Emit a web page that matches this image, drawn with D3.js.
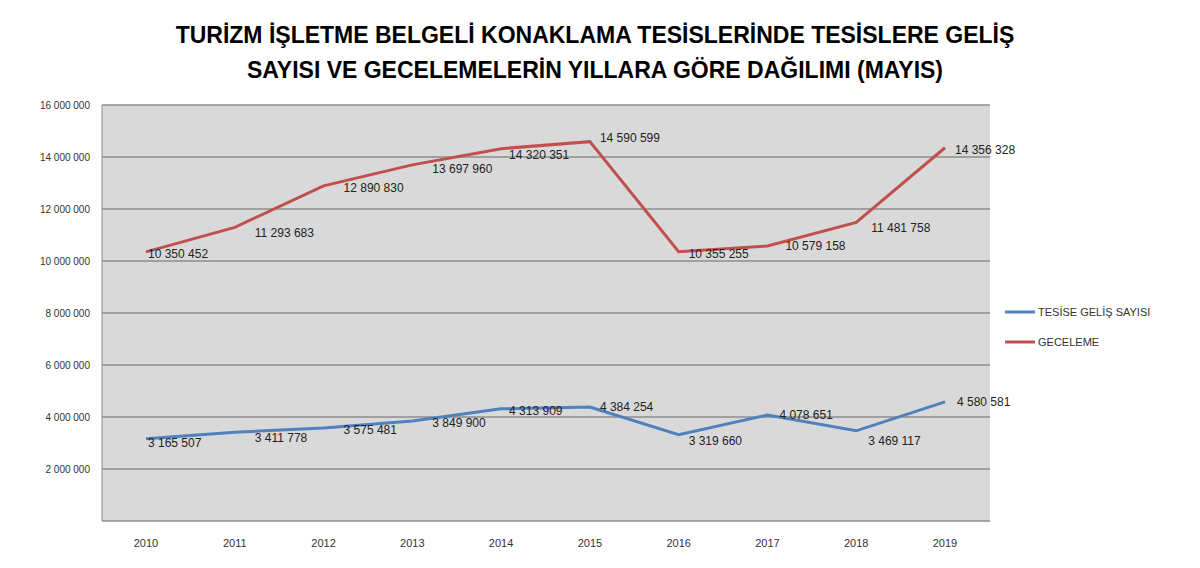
<!DOCTYPE html>
<html><head><meta charset="utf-8">
<script src="https://cdn.jsdelivr.net/npm/d3@7"></script>
<style>body{margin:0;background:#fff;font-family:"Liberation Sans",Arial,sans-serif}</style>
</head><body><svg id="c" width="1200" height="568"></svg>
<script>
var years = ["2010","2011","2012","2013","2014","2015","2016","2017","2018","2019"];
var gelis = [3165507,3411778,3575481,3849900,4313909,4384254,3319660,4078651,3469117,4580581];
var geceleme = [10350452,11293683,12890830,13697960,14320351,14590599,10355255,10579158,11481758,14356328];
var yTicks = [0,2000000,4000000,6000000,8000000,10000000,12000000,14000000,16000000];

var svg = d3.select("#c");
var fmt = function (v) { return d3.format(",")(v).replace(/,/g, " "); };

svg.append("text").attr("x", 595).attr("y", 43).attr("text-anchor", "middle")
  .style("font-weight", "bold").style("font-size", "23px").text("TURİZM İŞLETME BELGELİ  KONAKLAMA TESİSLERİNDE TESİSLERE GELİŞ");
svg.append("text").attr("x", 595).attr("y", 78).attr("text-anchor", "middle")
  .style("font-weight", "bold").style("font-size", "23px").text("SAYISI VE GECELEMELERİN YILLARA GÖRE DAĞILIMI (MAYIS)");

var x = d3.scalePoint().domain(years).range([146, 945]).padding(0);
var y = d3.scaleLinear().domain([0, 16000000]).range([521, 105]);

svg.append("rect").attr("x", 102).attr("y", 105).attr("width", 888).attr("height", 416).attr("fill", "#d9d9d9");

svg.append("g").selectAll("line").data(yTicks).enter().append("line")
  .attr("x1", 102).attr("x2", 990).attr("y1", y).attr("y2", y)
  .attr("stroke", "#8c8c8c").attr("stroke-width", 1.5);
svg.append("line").attr("x1", 102).attr("x2", 102).attr("y1", 105).attr("y2", 521).attr("stroke", "#8c8c8c");

svg.append("g").selectAll("text").data(yTicks.slice(1)).enter().append("text")
  .attr("x", 90).attr("y", function (d) { return y(d) + 4; }).attr("text-anchor", "end")
  .style("font-size", "10px").attr("fill", "#333").text(fmt);

svg.append("g").selectAll("text").data(years).enter().append("text")
  .attr("x", x).attr("y", 547).attr("text-anchor", "middle")
  .style("font-size", "11px").attr("fill", "#333").text(function (d) { return d; });

var line = d3.line().x(function (d, i) { return x(years[i]); }).y(function (d) { return y(d); });

function series(data, color, dx, dy) {
  svg.append("path").datum(data).attr("d", line).attr("fill", "none")
    .attr("stroke", color).attr("stroke-width", 3);
  svg.append("g").selectAll("text").data(data).enter().append("text")
    .attr("x", function (d, i) { return x(years[i]) + dx[i]; })
    .attr("y", function (d, i) { return y(d) + dy[i]; })
    .style("font-size", "12px").attr("fill", "#222").text(fmt);
}

series(geceleme, "#c0504d",
  [2, 20, 20, 20, 8, 10, 10, 18, 15, 10],
  [6, 10, 6, 8, 10, 0, 6, 4, 10, 6]);
series(gelis, "#4f81bd",
  [2, 20, 20, 20, 8, 10, 10, 12, 12, 12],
  [8, 10, 6, 6, 6, 4, 10, 4, 14, 4]);

var legend = [["TESİSE GELİŞ SAYISI", "#4f81bd"], ["GECELEME", "#c0504d"]];
var lg = svg.append("g").selectAll("g").data(legend).enter().append("g")
  .attr("transform", function (d, i) { return "translate(1005," + (312 + i * 30) + ")"; });
lg.append("line").attr("x1", 0).attr("x2", 30).attr("stroke", function (d) { return d[1]; }).attr("stroke-width", 3);
lg.append("text").attr("x", 33).attr("y", 4).style("font-size", "11px").attr("fill", "#333").text(function (d) { return d[0]; });
</script></body></html>
